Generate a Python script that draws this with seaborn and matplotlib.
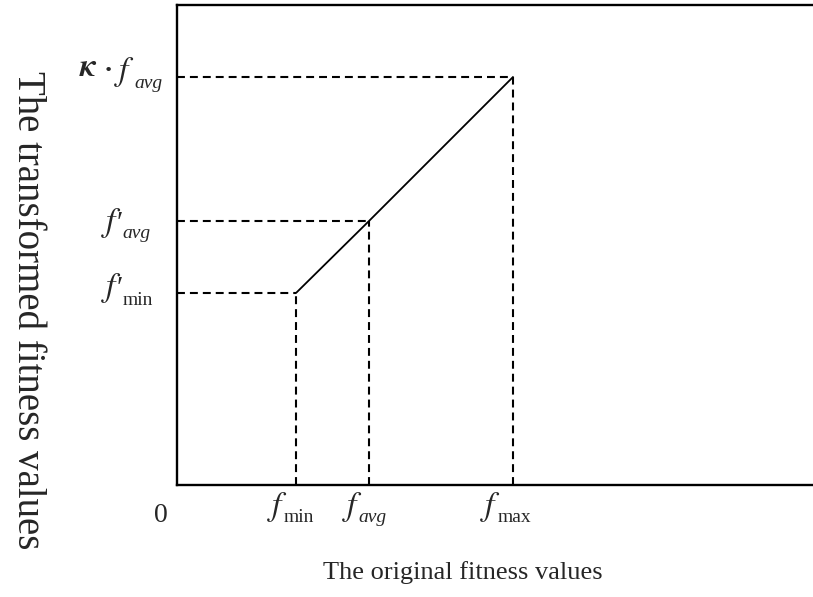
import matplotlib
matplotlib.use("Agg")
import matplotlib.pyplot as plt
import seaborn as sns
import pandas as pd

# Linear scaling of fitness: original value -> transformed value
point_names = ["min", "avg", "max"]
orig_fitness = [119, 192, 336]          # f_min, f_avg, f_max
trans_fitness = [192, 264, 408]         # f'_min, f'_avg, kappa*f_avg
x_limits = (0, 636)
y_limits = (0, 480)

# Tick labels, written as (text, style) pieces: a main symbol plus a subscript
x_tick_parts = [[("f", "sym"), ("min", "sub")],
                [("f", "sym"), ("avg", "subit")],
                [("f", "sym"), ("max", "sub")]]
y_tick_parts = [[("f", "sym"), ("\u2032", "prime"), ("min", "sub")],
                [("f", "sym"), ("\u2032", "prime"), ("avg", "subit")],
                [("\u03ba", "kappa"), ("\u00b7", "dot"), ("f", "sym"), ("avg", "subit")]]

# Layout of the pieces: the first one is offset (dx, dy) pixels from the tick
# anchor, each later one starts `gap` pixels after the previous one (dy below)
x_tick_layout = [[(-24, -30), (2, -37)],
                 [(-22, -30), (2, -37)],
                 [(-28, -30), (3, -37)]]
y_tick_layout = [[(-71, -3), (1, -3), (0, -12)],
                 [(-71, -10), (1, -10), (0, -17)],
                 [(-97, 1), (8, -1), (6, -3), (6, -11)]]

serif = ["Liberation Serif", "DejaVu Serif"]
styles = {
    "sym": dict(fontsize=24, family="STIXGeneral", fontstyle="italic"),
    "prime": dict(fontsize=21, family=serif),
    "sub": dict(fontsize=14, family=serif),
    "subit": dict(fontsize=14, family=serif, fontstyle="italic"),
    "kappa": dict(fontsize=23, family="STIXGeneral", fontstyle="italic",
                  fontweight="bold"),
    "dot": dict(fontsize=20, family=serif, fontweight="bold"),
}

sns.set_style("white")
plt.rcParams["font.family"] = serif

fig = plt.figure(figsize=(8.13, 5.97), dpi=100)
ax = fig.add_axes([177 / 813, 112 / 597, 636 / 813, 480 / 597])

df = pd.DataFrame({"point": point_names,
                   "original": orig_fitness,
                   "transformed": trans_fitness})

# Guide lines from each point back to both axes
dash = (0, (3.8, 2.4))
for xo, yt in zip(orig_fitness, trans_fitness):
    ax.plot([0, xo], [yt, yt], color="black", lw=1.5, linestyle=dash, zorder=2)
    ax.plot([xo, xo], [0, yt], color="black", lw=1.5, linestyle=dash, zorder=2)

# The scaling line itself
sns.lineplot(data=df, x="original", y="transformed", color="black",
             lw=1.3, ax=ax, zorder=3)

ax.set_xlim(*x_limits)
ax.set_ylim(*y_limits)
ax.set_xticks(orig_fitness)
ax.set_yticks(trans_fitness)
ax.set_xticklabels([])
ax.set_yticklabels([])
ax.tick_params(length=0)
ax.set_xlabel("")
ax.set_ylabel("")

renderer = fig.canvas.get_renderer()


def draw_label(anchor, parts, layout):
    ax_px = ax.transData.transform(anchor)[0]
    prev_right = None
    for (txt, sty), (dx, dy) in zip(parts, layout):
        if prev_right is not None:
            dx = prev_right - ax_px + dx
        t = ax.annotate(txt, xy=anchor, xytext=(dx, dy),
                        textcoords="offset pixels", ha="left", va="baseline",
                        annotation_clip=False, **styles[sty])
        prev_right = t.get_window_extent(renderer).x1


for xv, parts, lay in zip(orig_fitness, x_tick_parts, x_tick_layout):
    draw_label((xv, 0), parts, lay)
for yv, parts, lay in zip(trans_fitness, y_tick_parts, y_tick_layout):
    draw_label((0, yv), parts, lay)

for side in ("left", "bottom", "top"):
    ax.spines[side].set_visible(True)
    ax.spines[side].set_color("black")
    ax.spines[side].set_linewidth(1.7)
ax.spines["right"].set_visible(False)

ax.annotate("0", xy=(0, 0), xytext=(-16, -30), textcoords="offset pixels",
            ha="center", va="center", fontsize=20, annotation_clip=False)

fig.text(463 / 813, 1 - 573 / 597, "The original fitness values",
         ha="center", va="center", fontsize=19)
fig.text(27 / 813, 1 - 310 / 597, "The transformed fitness values",
         ha="center", va="center", rotation=-90, fontsize=28)

fig.savefig("out.png", dpi=100, facecolor="white")
